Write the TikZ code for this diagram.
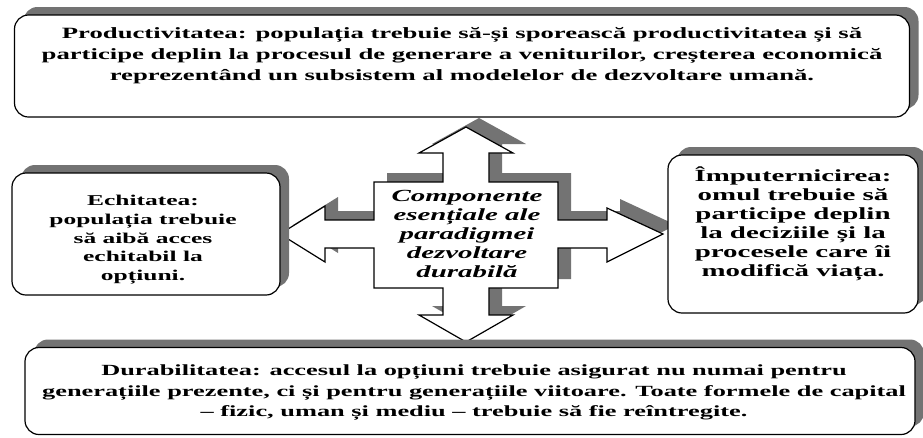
\documentclass[tikz,border=0pt]{standalone}
\usepackage{fontspec}
\setmainfont{Liberation Serif}[FakeStretch=1.7]
\usetikzlibrary{shadows,positioning}

% outline of the four-way arrow
\newcommand{\crossshape}{(466,127) -- (513,153) -- (489,153) -- (489,182) -- (558,182)
  -- (558,220) -- (607,220) -- (607,208) -- (663,234) -- (607,262) -- (607,248)
  -- (558,248) -- (558,288) -- (489,288) -- (489,315) -- (513,315) -- (466,342)
  -- (419,315) -- (443,315) -- (443,288) -- (374,288) -- (374,248) -- (325,248)
  -- (325,262) -- (280,234) -- (325,206) -- (325,220) -- (374,220) -- (374,182)
  -- (443,182) -- (443,153) -- (419,153) -- cycle}

\begin{document}
\begin{tikzpicture}[x=1pt, y=-1pt,
  box/.style={draw, line width=1.2pt, fill=white, rounded corners=14pt,
    drop shadow={shadow xshift=9pt, shadow yshift=8pt, fill=black!55, opacity=1}},
  txt/.style={align=center, inner sep=0pt,
    font=\fontsize{15}{19.5}\selectfont\bfseries}]
  \useasboundingbox (0,0) rectangle (923,437);

  \fill[black!55, shift={(13,-9)}] \crossshape;
  \draw[line width=1.2pt, fill=white] \crossshape;

  \node[box, minimum width=895, minimum height=102] (prod) at (462,66) {};
  \node[box, minimum width=268, minimum height=122] (echi) at (146,234) {};
  \node[box, minimum width=250, minimum height=158] (imp) at (793,234) {};
  \node[box, minimum width=890, minimum height=87] (dura) at (470,391) {};

  \node[txt, font=\fontsize{15.7}{21}\selectfont\bfseries] (prodtxt) at (462,56)
    {Productivitatea: populația trebuie să-și sporească productivitatea și să\\
     participe deplin la procesul de generare a veniturilor, creșterea economică\\
     reprezentând un subsistem al modelelor de dezvoltare umană.};
  \node[txt, font=\fontsize{15}{18.7}\selectfont\bfseries] (echitxt) at (143,240)
    {Echitatea:\\ populația trebuie\\ să aibă acces\\ echitabil la\\ opțiuni.};
  \node[txt, font=\fontsize{17}{19}\selectfont\bfseries] (imptxt) at (793,224)
    {Împuternicirea:\\ omul trebuie să\\ participe deplin\\ la deciziile și la\\
     procesele care îi\\ modifică viața.};
  \node[txt, font=\fontsize{15.5}{20.5}\selectfont\bfseries] (duratxt) at (474,393)
    {Durabilitatea: accesul la opțiuni trebuie asigurat nu numai pentru\\
     generațiile prezente, ci și pentru generațiile viitoare. Toate formele de capital\\
     -- fizic, uman și mediu -- trebuie să fie reîntregite.};
  \node[txt, font=\fontsize{17}{19}\selectfont\bfseries\itshape] (core) at (467,234)
    {Componente\\ esențiale ale\\ paradigmei\\ dezvoltare\\ durabilă};
\end{tikzpicture}
\end{document}
